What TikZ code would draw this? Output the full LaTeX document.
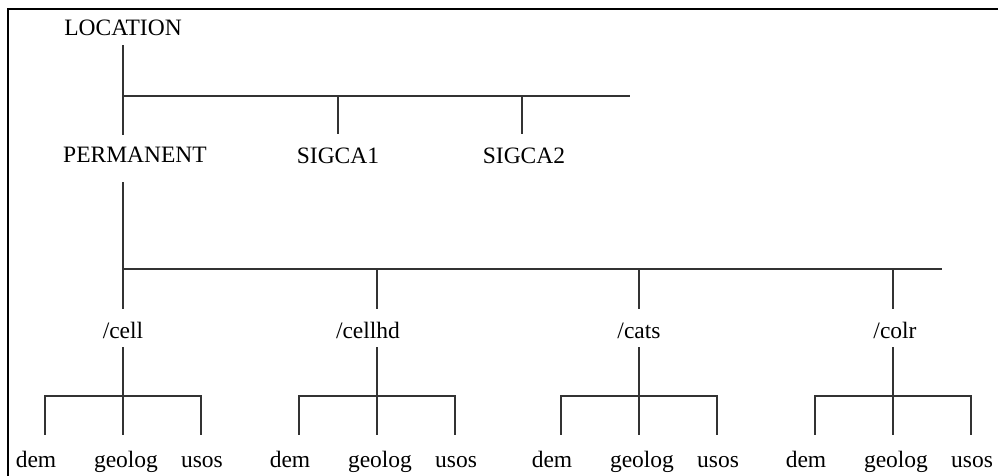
\documentclass[tikz,border=0pt]{standalone}
\usepackage{fontspec}
\setmainfont{Liberation Serif}

\tikzset{
    lbl/.style={font=\fontsize{23.5}{28}\selectfont, text height=15pt, text depth=5pt,
                inner xsep=1pt, inner ysep=4pt, anchor=base},
    branch/.style={draw=black!80, line width=1.4pt},
}

\begin{document}
\begin{tikzpicture}[x=1pt, y=1pt]
    \useasboundingbox (0,0) rectangle (998,-476);
    % frame, only top and left edges show
    \draw[line width=1.6pt] (8,-476) -- (8,-9) -- (998,-9);

    % top level
    \node[lbl] (loc) at (123,-36) {LOCATION};
    \node[lbl] (perm) at (135,-162) {PERMANENT};
    \node[lbl] (sig1) at (338,-164) {SIGCA1};
    \node[lbl] (sig2) at (524,-164) {SIGCA2};

    \coordinate (topbar) at (123,-96);
    \coordinate (topend) at (630,-96);
    \coordinate (midbar) at (123,-269);
    \coordinate (midend) at (942,-269);

    \draw[branch, shorten >=8pt] (loc.south) -- (loc.south |- perm.north);
    \draw[branch] (topbar) -- (topend);
    \draw[branch, shorten >=11pt] (topbar -| sig1) -- (sig1.north);
    \draw[branch, shorten >=11pt] ([xshift=-2pt]topbar -| sig2) -- ([xshift=-2pt]sig2.north);
    \draw[branch, shorten <=11pt] (loc.south |- perm.south) -- (midbar) -- (midend);

    % the four directories under PERMANENT, each with its three maps
    \foreach \n/\x/\tx in {cell/123/123, cellhd/377/368, cats/639/639, colr/893/895} {
        \node[lbl] (\n) at (\tx,-338) {/\n};
        \coordinate (\n-j) at (\x,-396);
        \coordinate (\n-l) at (\x-78,-396);
        \coordinate (\n-r) at (\x+78,-396);

        \node[lbl] (\n-dem) at (\x-87,-467) {dem};
        \node[lbl] (\n-geolog) at (\x+3,-467) {geolog};
        \node[lbl] (\n-usos) at (\x+79,-467) {usos};

        \draw[branch, shorten >=10pt] (midbar -| \n-j) -- (\n-j |- \n.north);
        \draw[branch, shorten >=13pt] (\n-j |- \n.south) -- (\n-j |- \n-geolog.north);
        \draw[branch, shorten <=13pt, shorten >=13pt]
            (\n-l |- \n-dem.north) -- (\n-l) -- (\n-r) -- (\n-r |- \n-usos.north);
    }
\end{tikzpicture}
\end{document}
